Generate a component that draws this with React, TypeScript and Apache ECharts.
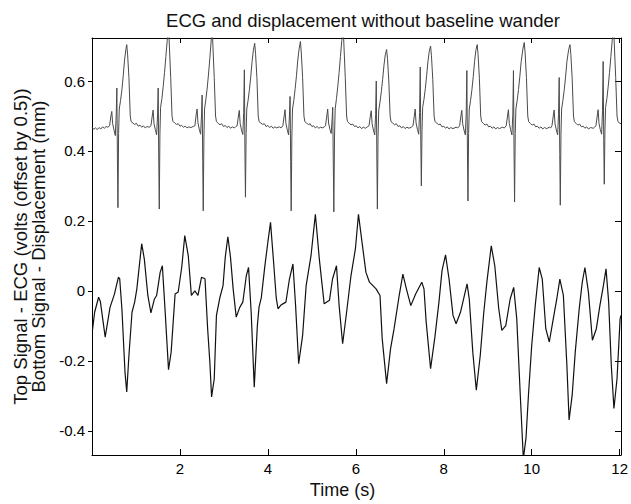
import React, { useEffect, useRef } from "react";
import * as echarts from "echarts";

const titleText = "ECG and displacement without baseline wander";
const xName = "Time (s)";
const yName = "Top Signal - ECG (volts (offset by 0.5))\nBottom Signal - Displacement (mm)";
const xTicks = [2, 4, 6, 8, 10, 12];
const yTicks = [-0.4, -0.2, 0, 0.2, 0.4, 0.6];

// ECG (offset by 0.5) – [time s, volts]
const ecg: [number, number][] = [
  [0.00,0.468],[0.04,0.462],[0.08,0.466],[0.12,0.461],[0.16,0.467],[0.20,0.463],[0.24,0.469],[0.28,0.465],[0.32,0.470],[0.36,0.468],
  [0.40,0.472],[0.43,0.500],[0.45,0.513],[0.47,0.478],[0.50,0.460],[0.53,0.444],[0.55,0.500],[0.565,0.580],[0.578,0.380],[0.59,0.238],[0.605,0.450],[0.62,0.520],[0.65,0.545],[0.68,0.575],[0.71,0.615],[0.74,0.660],[0.77,0.690],[0.79,0.704],[0.81,0.675],[0.84,0.610],[0.87,0.500],[0.89,0.484],[0.93,0.480],[0.97,0.476],[1.01,0.479],[1.05,0.471],[1.09,0.474],[1.13,0.468],[1.17,0.472],[1.21,0.466],[1.25,0.470],[1.30,0.468],
  [1.34,0.472],[1.37,0.500],[1.39,0.517],[1.41,0.478],[1.44,0.461],[1.47,0.446],[1.49,0.500],[1.505,0.580],[1.518,0.380],[1.53,0.234],[1.545,0.450],[1.56,0.525],[1.59,0.550],[1.62,0.585],[1.65,0.625],[1.68,0.670],[1.71,0.715],[1.74,0.760],[1.76,0.700],[1.79,0.610],[1.82,0.500],[1.84,0.485],[1.88,0.480],[1.92,0.476],[1.96,0.478],[2.00,0.471],[2.04,0.473],[2.08,0.468],[2.12,0.471],[2.16,0.466],[2.20,0.469],[2.25,0.467],[2.30,0.470],
  [2.34,0.472],[2.37,0.505],[2.39,0.520],[2.41,0.480],[2.44,0.462],[2.47,0.448],[2.49,0.500],[2.505,0.560],[2.518,0.370],[2.53,0.229],[2.545,0.440],[2.56,0.520],[2.59,0.548],[2.62,0.580],[2.65,0.620],[2.68,0.665],[2.71,0.715],[2.73,0.760],[2.75,0.700],[2.78,0.610],[2.81,0.500],[2.83,0.484],[2.87,0.479],[2.91,0.475],[2.95,0.478],[2.99,0.470],[3.03,0.473],[3.07,0.467],[3.11,0.471],[3.15,0.465],[3.19,0.469],[3.24,0.466],[3.27,0.470],
  [3.30,0.472],[3.33,0.500],[3.35,0.516],[3.37,0.478],[3.40,0.460],[3.43,0.447],[3.45,0.510],[3.465,0.632],[3.478,0.400],[3.49,0.268],[3.505,0.450],[3.52,0.520],[3.55,0.545],[3.58,0.575],[3.61,0.612],[3.64,0.655],[3.67,0.688],[3.70,0.708],[3.72,0.678],[3.75,0.610],[3.78,0.500],[3.80,0.484],[3.84,0.480],[3.88,0.476],[3.92,0.478],[3.96,0.470],[4.00,0.473],[4.04,0.467],[4.08,0.471],[4.12,0.465],[4.16,0.469],[4.20,0.466],[4.26,0.469],[4.30,0.466],
  [4.34,0.472],[4.37,0.500],[4.39,0.518],[4.41,0.479],[4.44,0.461],[4.47,0.446],[4.49,0.500],[4.505,0.556],[4.518,0.370],[4.53,0.229],[4.545,0.440],[4.56,0.520],[4.59,0.545],[4.62,0.578],[4.65,0.615],[4.68,0.660],[4.71,0.692],[4.74,0.713],[4.76,0.680],[4.79,0.610],[4.82,0.500],[4.84,0.484],[4.88,0.480],[4.92,0.475],[4.96,0.478],[5.00,0.470],[5.04,0.472],[5.08,0.466],[5.12,0.470],[5.16,0.465],[5.20,0.468],[5.25,0.466],[5.28,0.469],
  [5.31,0.472],[5.34,0.500],[5.36,0.520],[5.38,0.480],[5.41,0.462],[5.44,0.450],[5.46,0.490],[5.475,0.525],[5.488,0.360],[5.50,0.226],[5.515,0.440],[5.53,0.520],[5.56,0.550],[5.59,0.585],[5.62,0.625],[5.65,0.670],[5.68,0.715],[5.71,0.760],[5.73,0.700],[5.76,0.610],[5.79,0.500],[5.81,0.484],[5.85,0.479],[5.89,0.475],[5.93,0.477],[5.97,0.470],[6.01,0.472],[6.05,0.466],[6.09,0.470],[6.13,0.464],[6.17,0.468],[6.22,0.465],[6.26,0.469],
  [6.30,0.472],[6.33,0.500],[6.35,0.515],[6.37,0.478],[6.40,0.460],[6.43,0.446],[6.45,0.505],[6.465,0.600],[6.478,0.380],[6.49,0.234],[6.505,0.440],[6.52,0.515],[6.55,0.540],[6.58,0.570],[6.61,0.605],[6.64,0.645],[6.67,0.675],[6.70,0.690],[6.72,0.665],[6.75,0.600],[6.78,0.500],[6.80,0.484],[6.84,0.480],[6.88,0.475],[6.92,0.478],[6.96,0.470],[7.00,0.472],[7.04,0.466],[7.08,0.470],[7.12,0.464],[7.16,0.468],[7.21,0.465],[7.26,0.468],
  [7.30,0.472],[7.33,0.500],[7.35,0.520],[7.37,0.480],[7.40,0.462],[7.43,0.448],[7.45,0.510],[7.465,0.640],[7.478,0.420],[7.49,0.300],[7.505,0.460],[7.52,0.525],[7.55,0.548],[7.58,0.578],[7.61,0.615],[7.64,0.655],[7.67,0.685],[7.70,0.700],[7.72,0.672],[7.75,0.605],[7.78,0.500],[7.80,0.484],[7.84,0.480],[7.88,0.475],[7.92,0.477],[7.96,0.469],[8.00,0.471],[8.04,0.465],[8.08,0.469],[8.12,0.463],[8.16,0.467],[8.21,0.464],[8.28,0.468],[8.32,0.466],
  [8.36,0.472],[8.39,0.500],[8.41,0.516],[8.43,0.478],[8.46,0.460],[8.49,0.446],[8.51,0.505],[8.525,0.630],[8.538,0.400],[8.55,0.257],[8.565,0.450],[8.58,0.520],[8.61,0.545],[8.64,0.575],[8.67,0.612],[8.70,0.655],[8.73,0.688],[8.76,0.704],[8.78,0.676],[8.81,0.608],[8.84,0.500],[8.86,0.484],[8.90,0.479],[8.94,0.474],[8.98,0.477],[9.02,0.469],[9.06,0.471],[9.10,0.465],[9.14,0.469],[9.18,0.463],[9.22,0.467],[9.27,0.464],[9.33,0.468],[9.38,0.466],
  [9.42,0.472],[9.45,0.500],[9.47,0.518],[9.49,0.479],[9.52,0.461],[9.55,0.446],[9.57,0.505],[9.585,0.630],[9.598,0.400],[9.61,0.254],[9.625,0.450],[9.64,0.520],[9.67,0.545],[9.70,0.576],[9.73,0.613],[9.76,0.655],[9.80,0.692],[9.83,0.710],[9.85,0.680],[9.88,0.610],[9.91,0.500],[9.93,0.484],[9.97,0.479],[10.01,0.474],[10.05,0.477],[10.09,0.469],[10.13,0.471],[10.17,0.465],[10.21,0.469],[10.25,0.463],[10.29,0.467],[10.34,0.464],[10.40,0.468],[10.43,0.466],
  [10.46,0.472],[10.49,0.500],[10.51,0.517],[10.53,0.478],[10.56,0.460],[10.59,0.446],[10.61,0.505],[10.625,0.610],[10.638,0.390],[10.65,0.245],[10.665,0.445],[10.68,0.520],[10.71,0.545],[10.74,0.575],[10.77,0.612],[10.80,0.655],[10.84,0.690],[10.87,0.704],[10.89,0.676],[10.92,0.608],[10.95,0.500],[10.97,0.484],[11.01,0.479],[11.05,0.474],[11.09,0.477],[11.13,0.469],[11.17,0.471],[11.21,0.465],[11.25,0.469],[11.29,0.463],[11.34,0.467],[11.40,0.465],[11.43,0.468],
  [11.46,0.472],[11.49,0.500],[11.51,0.518],[11.53,0.479],[11.56,0.461],[11.59,0.448],[11.61,0.515],[11.625,0.656],[11.638,0.430],[11.65,0.305],[11.665,0.460],[11.68,0.525],[11.71,0.550],[11.74,0.585],[11.77,0.625],[11.80,0.670],[11.83,0.715],[11.86,0.760],[11.88,0.700],[11.91,0.610],[11.94,0.500],[11.96,0.485],[11.99,0.480],[12.03,0.478],
];

// Displacement – [time s, mm]
const displacement: [number, number][] = [
  [0.01,-0.113],[0.06,-0.061],[0.15,-0.018],[0.19,-0.030],[0.30,-0.132],[0.41,-0.047],[0.51,-0.009],[0.60,0.039],[0.63,0.035],[0.68,-0.051],[0.75,-0.232],[0.79,-0.289],[0.84,-0.184],[0.91,-0.061],[0.97,-0.032],
  [1.02,0.006],[1.06,0.053],[1.13,0.135],[1.19,0.091],[1.27,-0.013],[1.34,-0.063],[1.42,-0.023],[1.47,-0.013],[1.55,0.053],[1.60,0.072],[1.66,-0.051],[1.74,-0.225],[1.80,-0.175],[1.89,-0.009],[1.96,-0.003],
  [2.04,0.067],[2.11,0.158],[2.19,0.100],[2.26,-0.013],[2.34,0.000],[2.41,-0.013],[2.49,0.039],[2.57,0.035],[2.63,-0.108],[2.68,-0.203],[2.72,-0.303],[2.78,-0.251],[2.83,-0.070],[2.91,-0.018],[2.98,0.015],
  [3.03,0.096],[3.09,0.155],[3.15,0.096],[3.21,0.006],[3.28,-0.075],[3.36,-0.047],[3.43,-0.032],[3.51,0.044],[3.56,0.067],[3.62,-0.061],[3.69,-0.275],[3.72,-0.200],[3.76,-0.100],[3.80,-0.045],[3.85,-0.020],[3.93,0.070],
  [4.00,0.140],[4.06,0.196],[4.13,0.082],[4.19,-0.020],[4.23,-0.051],[4.30,-0.040],[4.34,-0.037],[4.41,-0.032],[4.49,0.034],[4.57,0.077],[4.63,-0.042],[4.70,-0.208],[4.79,-0.127],[4.87,0.015],[4.98,0.100],
  [5.08,0.219],[5.17,0.091],[5.28,-0.037],[5.40,-0.027],[5.47,0.034],[5.56,0.072],[5.62,-0.042],[5.70,-0.151],[5.79,-0.061],[5.89,0.044],[5.99,0.120],
  [6.06,0.219],[6.15,0.130],[6.23,0.053],[6.31,0.025],[6.46,0.006],[6.55,-0.013],[6.60,-0.137],[6.70,-0.265],[6.79,-0.165],[6.87,-0.108],[6.98,-0.018],
  [7.07,0.048],[7.15,0.006],[7.25,-0.042],[7.36,-0.009],[7.50,0.025],[7.55,0.006],[7.60,-0.089],[7.70,-0.222],[7.80,-0.130],[7.89,-0.032],[7.96,0.058],
  [8.04,0.103],[8.12,0.034],[8.21,-0.070],[8.28,-0.094],[8.38,-0.061],[8.53,0.020],[8.58,-0.023],[8.66,-0.175],[8.74,-0.284],[8.83,-0.184],[8.91,-0.061],[8.98,0.025],
  [9.08,0.129],[9.16,0.072],[9.25,-0.051],[9.32,-0.113],[9.41,-0.099],[9.51,-0.023],[9.59,0.010],[9.66,-0.080],[9.74,-0.298],[9.81,-0.480],[9.87,-0.420],[9.93,-0.289],
  [10.00,-0.156],[10.08,-0.042],[10.17,0.067],[10.24,0.034],[10.32,-0.108],[10.40,-0.146],[10.49,-0.080],[10.57,-0.023],[10.64,0.034],[10.72,-0.013],[10.80,-0.213],[10.85,-0.369],[10.92,-0.298],[10.99,-0.175],
  [11.08,-0.051],[11.15,0.025],[11.21,0.067],[11.29,-0.004],[11.38,-0.141],[11.47,-0.108],[11.55,-0.042],[11.63,0.015],[11.69,0.063],[11.75,-0.032],[11.81,-0.213],[11.87,-0.336],[11.94,-0.251],[12.01,-0.080],[12.03,-0.070],
];

const X_MIN = 0;
const X_MAX = 12.03;
const Y_MIN = -0.469;
const Y_MAX = 0.723;

const FONT = "'Liberation Sans', Arial, Helvetica, sans-serif";

export default function App() {
  const ref = useRef<HTMLDivElement>(null);
  useEffect(() => {
    document.body.style.margin = "0";
    if (!ref.current) return;
    const chart = echarts.init(ref.current, undefined, { renderer: "svg" });
    const line = { color: "#000", width: 1 };
    chart.setOption({
      animation: false,
      backgroundColor: "#fff",
      title: {
        text: titleText,
        left: 358,
        top: 6,
        textAlign: "center",
        textStyle: { fontFamily: FONT, fontSize: 18.5, fontWeight: "normal", color: "#111" },
      },
      grid: { left: 92, right: 7, top: 38, bottom: 47, containLabel: false },
      xAxis: [
        {
          type: "value",
          min: X_MIN,
          max: X_MAX,
          position: "bottom",
          axisLine: { onZero: false, lineStyle: line },
          axisTick: { inside: true, length: 6, customValues: xTicks, lineStyle: line },
          axisLabel: { customValues: xTicks, margin: 6, fontSize: 15, color: "#000", fontFamily: FONT },
          splitLine: { show: false },
          name: xName,
          nameLocation: "middle",
          nameGap: 26,
          nameTextStyle: { fontFamily: FONT, fontSize: 18, color: "#111", padding: [0, 28, 0, 0] },
        },
        {
          type: "value",
          min: X_MIN,
          max: X_MAX,
          position: "top",
          axisLine: { onZero: false, lineStyle: line },
          axisTick: { inside: true, length: 5, customValues: xTicks, lineStyle: line },
          axisLabel: { show: false },
          splitLine: { show: false },
        },
      ],
      yAxis: [
        {
          type: "value",
          min: Y_MIN,
          max: Y_MAX,
          position: "left",
          axisLine: { onZero: false, lineStyle: line },
          axisTick: { inside: false, length: 4, customValues: yTicks, lineStyle: line },
          axisLabel: { customValues: yTicks, margin: 7, fontSize: 15, color: "#000", fontFamily: FONT },
          splitLine: { show: false },
          name: yName,
          nameLocation: "middle",
          nameGap: 35,
          nameRotate: 90,
          nameTextStyle: { fontFamily: FONT, fontSize: 18.5, lineHeight: 18, color: "#111", align: "center" },
        },
        {
          type: "value",
          min: Y_MIN,
          max: Y_MAX,
          position: "right",
          axisLine: { onZero: false, lineStyle: line },
          axisTick: { inside: true, length: 6, customValues: yTicks, lineStyle: line },
          axisLabel: { show: false },
          splitLine: { show: false },
        },
      ],
      series: [
        {
          type: "line",
          name: "ECG",
          data: ecg,
          xAxisIndex: 0,
          yAxisIndex: 0,
          symbol: "none",
          clip: true,
          lineStyle: { color: "#4a4a4a", width: 1 },
        },
        {
          type: "line",
          name: "Displacement",
          data: displacement,
          xAxisIndex: 0,
          yAxisIndex: 0,
          symbol: "none",
          clip: true,
          lineStyle: { color: "#111", width: 1.2 },
        },
      ],
    });
    return () => chart.dispose();
  }, []);
  return <div ref={ref} style={{ width: 631, height: 504 }} />;
}
